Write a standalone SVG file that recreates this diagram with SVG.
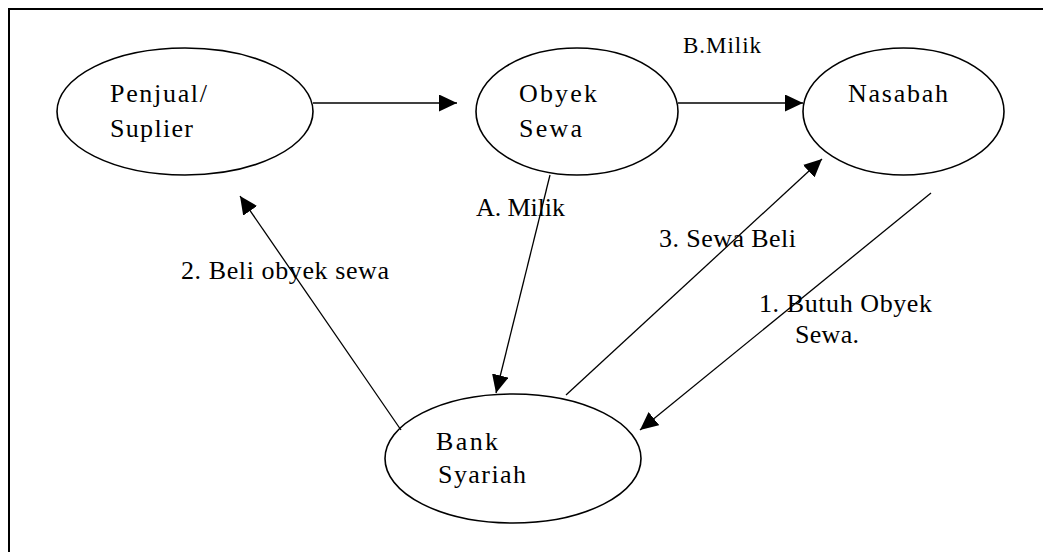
<svg xmlns="http://www.w3.org/2000/svg" width="1043" height="552" viewBox="0 0 1043 552">
<style>
  .node ellipse { fill: #ffffff; stroke: #000000; stroke-width: 1.6; }
  .frame { fill: none; stroke: #000000; stroke-width: 2; }
  text { font-family: "Liberation Serif", "Times New Roman", serif; fill: #000000; }
  .nt { font-size: 26px; }
  .lbl { font-size: 26px; }
  .conn line { stroke: #000000; stroke-width: 1.3; fill: none; }
</style>
<defs>
  <marker id="ah" markerWidth="18" markerHeight="17" refX="18" refY="8.5" orient="auto" markerUnits="userSpaceOnUse">
    <path d="M0,0 L18,8.5 L0,17 z" fill="#000000"/>
  </marker>
</defs>
<rect x="0" y="0" width="1043" height="552" fill="#ffffff"/>
<rect class="frame" x="9" y="9" width="1100" height="600"/>

<g id="penjual" class="node">
  <ellipse cx="185" cy="111.5" rx="128" ry="63.5"/>
  <text class="nt" x="110" y="102" textLength="97" lengthAdjust="spacing">Penjual/</text>
  <text class="nt" x="110" y="137" textLength="83" lengthAdjust="spacing">Suplier</text>
</g>
<g id="obyek" class="node">
  <ellipse cx="577" cy="111.5" rx="101" ry="63.5"/>
  <text class="nt" x="519" y="102" textLength="78" lengthAdjust="spacing">Obyek</text>
  <text class="nt" x="519" y="137" textLength="63" lengthAdjust="spacing">Sewa</text>
</g>
<g id="nasabah" class="node">
  <ellipse cx="903.5" cy="111.5" rx="100.5" ry="63.5"/>
  <text class="nt" x="848" y="102" textLength="100" lengthAdjust="spacing">Nasabah</text>
</g>
<g id="bank" class="node">
  <ellipse cx="513" cy="458.5" rx="128" ry="64.5"/>
  <text class="nt" x="436" y="450" textLength="62" lengthAdjust="spacing">Bank</text>
  <text class="nt" x="438" y="483" textLength="88" lengthAdjust="spacing">Syariah</text>
</g>

<g id="connectors" class="conn">
  <line x1="313" y1="103" x2="457" y2="103" marker-end="url(#ah)"/>
  <line x1="678" y1="103" x2="803" y2="103" marker-end="url(#ah)"/>
  <line x1="550" y1="175" x2="496" y2="393" marker-end="url(#ah)"/>
  <line x1="401" y1="430" x2="240" y2="196" marker-end="url(#ah)"/>
  <line x1="566" y1="395" x2="822" y2="159" marker-end="url(#ah)"/>
  <line x1="931" y1="193" x2="640" y2="430" marker-end="url(#ah)"/>
</g>

<g id="labels">
  <text class="lbl" x="683" y="53" font-size="23" textLength="78" lengthAdjust="spacing" style="font-size:23px">B.Milik</text>
  <text class="lbl" x="476" y="216" textLength="89" lengthAdjust="spacing">A. Milik</text>
  <text class="lbl" x="181" y="279" textLength="208" lengthAdjust="spacing">2. Beli obyek sewa</text>
  <text class="lbl" x="659" y="247" textLength="137" lengthAdjust="spacing">3. Sewa Beli</text>
  <text class="lbl" x="759" y="312" textLength="173" lengthAdjust="spacing">1. Butuh Obyek</text>
  <text class="lbl" x="795" y="343" textLength="64" lengthAdjust="spacing">Sewa.</text>
</g>
</svg>
